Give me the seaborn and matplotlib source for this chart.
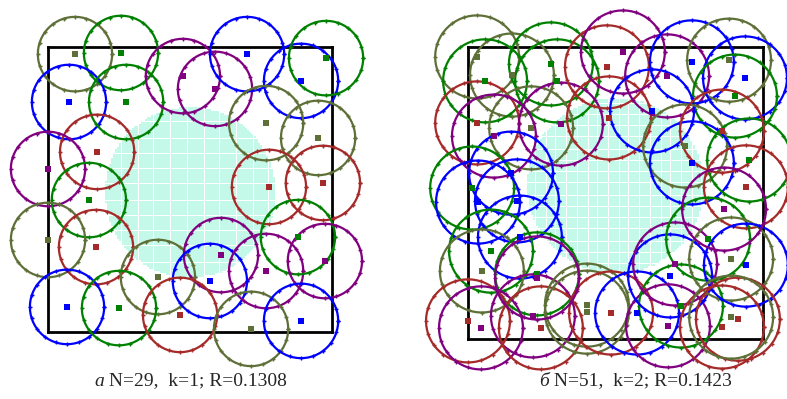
import matplotlib
matplotlib.use("Agg")
import matplotlib.pyplot as plt
import seaborn as sns
import numpy as np
import pandas as pd

# ── data: centres in unit-square coordinates ────────────────────────────────
left_x = [0.095, 0.257, 0.074, 0.275, 0.475, 0.588, 0.701, 0.891, 0.979, 0.768,
          0.951, 0.173, 0.000, 0.778, 0.968, 0.144, 0.000, 0.169, 0.387, 0.609,
          0.570, 0.768, 0.880, 0.975, 0.067, 0.250, 0.465, 0.715, 0.891]
left_y = [0.975, 0.979, 0.807, 0.807, 0.898, 0.853, 0.975, 0.881, 0.961, 0.733,
          0.681, 0.632, 0.572, 0.509, 0.523, 0.463, 0.323, 0.298, 0.193, 0.270,
          0.179, 0.214, 0.333, 0.249, 0.088, 0.084, 0.060, 0.011, 0.039]
left_c = ["olive", "green", "blue", "green", "purple", "purple", "blue", "blue", "green", "olive",
          "olive", "brown", "purple", "brown", "brown", "green", "olive", "brown", "olive", "purple",
          "blue", "purple", "green", "purple", "blue", "green", "brown", "olive", "blue"]

right_x = [0.031, 0.149, 0.281, 0.302, 0.058, 0.031, 0.214, 0.315, 0.471, 0.478,
           0.088, 0.146, 0.525, 0.675, 0.759, 0.885, 0.939, 0.905, 0.624, 0.736,
           0.759, 0.953, 0.861, 0.942, 0.014, 0.034, 0.166, 0.176, 0.078, 0.047,
           0.234, 0.220, 0.000, 0.044, 0.247, 0.403, 0.403, 0.485, 0.573, 0.678,
           0.722, 0.685, 0.702, 0.814, 0.892, 0.942, 0.868, 0.861, 0.915, 0.892,
           0.234]
right_y = [0.966, 0.904, 0.942, 0.884, 0.884, 0.740, 0.723, 0.736, 0.932, 0.757,
           0.695, 0.568, 0.983, 0.901, 0.949, 0.955, 0.894, 0.832, 0.781, 0.661,
           0.603, 0.613, 0.712, 0.521, 0.517, 0.469, 0.473, 0.349, 0.301, 0.233,
           0.223, 0.079, 0.062, 0.038, 0.038, 0.116, 0.092, 0.089, 0.089, 0.045,
           0.113, 0.216, 0.257, 0.342, 0.274, 0.253, 0.445, 0.041, 0.068, 0.075,
           0.209]
right_c = ["olive", "olive", "green", "green", "green", "brown", "olive", "purple", "brown", "brown",
           "purple", "blue", "purple", "purple", "blue", "olive", "blue", "green", "blue", "olive",
           "blue", "green", "brown", "brown", "green", "blue", "blue", "blue", "green", "olive",
           "green", "purple", "brown", "purple", "brown", "olive", "olive", "brown", "blue", "purple",
           "green", "blue", "purple", "green", "olive", "blue", "purple", "brown", "brown", "olive",
           "purple"]

left_R = 0.1308
right_R = 0.1423
left_hole = (0.50, 0.49, 0.30)    # centre x, centre y, radius of the cyan area
right_hole = (0.50, 0.525, 0.30)

captions = [("а", " N=29,  k=1; R=0.1308"), ("б", " N=51,  k=2; R=0.1423")]

palette = {"olive": "#5E7038", "green": "#008000", "blue": "#0000FF",
           "purple": "#800080", "brown": "#A52A2A"}


def draw_panel(ax, xs, ys, cols, R, hole):
    # pale cyan dotted area
    g = np.arange(0, 1.0001, 0.0075)
    gx, gy = np.meshgrid(g, g)
    cx, cy, cr = hole
    m = (gx - cx) ** 2 + (gy - cy) ** 2 <= cr ** 2
    sns.scatterplot(x=gx[m], y=gy[m], ax=ax, color="#C4F8E9", s=0.6, marker="s",
                    linewidth=0, zorder=1, legend=False)

    # circles
    t = np.linspace(0, 2 * np.pi, 61)
    for x, y, c in zip(xs, ys, cols):
        ax.plot(x + R * np.cos(t), y + R * np.sin(t), color=palette[c], lw=1.6,
                marker="+", markersize=2.5, markevery=3, clip_on=False, zorder=3)

    # centres
    df = pd.DataFrame({"x": xs, "y": ys, "c": cols})
    sns.scatterplot(data=df, x="x", y="y", hue="c", palette=palette, marker="s",
                    s=22, linewidth=0, ax=ax, legend=False, clip_on=False, zorder=4)

    ax.set_xlim(0, 1)
    ax.set_ylim(0, 1)
    ax.set_xticks([])
    ax.set_yticks([])
    ax.set_xlabel("")
    ax.set_ylabel("")
    for s in ax.spines.values():
        s.set_visible(True)
        s.set_color("black")
        s.set_linewidth(2.0)
        s.set_zorder(2)
    ax.patch.set_alpha(0)


sns.set_style("white")
plt.rcParams["font.family"] = ["Liberation Serif", "DejaVu Serif"]

fig = plt.figure(figsize=(7.87, 3.99), dpi=100)
ax1 = fig.add_axes([48 / 787, 67 / 399, 284 / 787, 285 / 399])
ax2 = fig.add_axes([468 / 787, 60 / 399, 295 / 787, 292 / 399])

draw_panel(ax1, left_x, left_y, left_c, left_R, left_hole)
draw_panel(ax2, right_x, right_y, right_c, right_R, right_hole)

# captions: italic letter followed by regular text, centred under each panel
for (lab, txt), xc in zip(captions, [190 / 787, 636 / 787]):
    probe = fig.text(xc, 0.045, lab + txt, fontsize=14, ha="center", va="center", alpha=0)
    fig.canvas.draw()
    x0 = probe.get_window_extent().x0 / fig.bbox.width
    a = fig.text(x0, 0.045, lab, fontsize=14, style="italic", ha="left", va="center")
    fig.canvas.draw()
    fig.text(a.get_window_extent().x1 / fig.bbox.width, 0.045, txt, fontsize=14,
             ha="left", va="center")

fig.savefig("out.png", dpi=100)
